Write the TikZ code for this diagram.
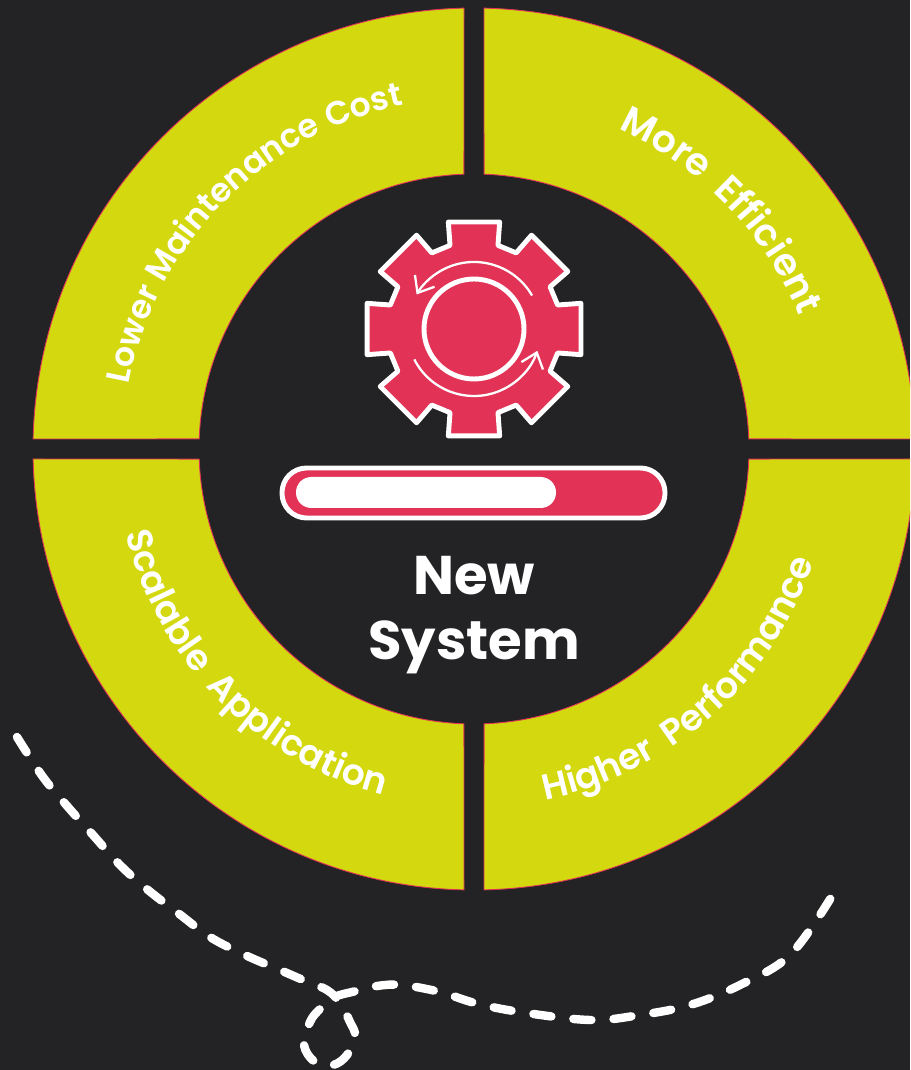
\documentclass[tikz,border=0pt]{standalone}
\usepackage{fontspec}
\setmainfont{Poppins}
\newfontfamily\ringfont{Poppins SemiBold}
\usetikzlibrary{arrows.meta,decorations.text}
\definecolor{boardbg}{HTML}{232225}
\definecolor{ringlime}{HTML}{D3D80F}
\definecolor{gearred}{HTML}{E23357}
\tikzset{
    ringpart/.style={fill=ringlime, draw=gearred, line width=0.5pt},
    redpart/.style={fill=gearred, draw=white, line width=2.8pt, line join=round},
    turnarrow/.style={draw=white, line width=1.3pt, -{Straight Barb[length=8pt,width=13pt]}},
    trailline/.style={draw=white, line width=4.8pt, line cap=round, dash pattern=on 10.3pt off 12.6pt}
}
\newcommand{\ringtext}[5]{%
    \path[decorate, decoration={text along path, text align=center,
        text={|\ringfont\fontsize{#5}{22}\selectfont\addfontfeature{LetterSpace=#4}\color{white}|#3}}] #1 arc[#2];
}
\begin{document}
\begin{tikzpicture}[x=0.02cm, y=0.02cm]
                \useasboundingbox (-474,-621) rectangle (436,449);
                \clip (-474,-621) rectangle (436,449);
                \fill[boardbg] (-474,-621) rectangle (436,449);

                % Four ring parts
                \foreach \r in {0,90,180,270} {
                    \draw[ringpart, rotate=\r] (91.3:441) arc[start angle=91.3, end angle=178.7, radius=441]
                        -- (177.9:275) arc[start angle=177.9, end angle=92.1, radius=275] -- cycle;
                }

                % Ring labels
                \ringtext{(178:351)}{start angle=178, end angle=93, radius=351}{Lower Maintenance Cost}{3}{18.8}
                \ringtext{(88:351)}{start angle=88, end angle=0, radius=351}{More Efficient}{20}{21.5}
                \ringtext{(-93:358)}{start angle=-93, end angle=-4, radius=358}{Higher Performance}{22}{20.5}
                \ringtext{(182:358)}{start angle=182, end angle=267, radius=358}{Scalable Application}{18}{20.5}

                % Gear
                \begin{scope}[shift={(0,120)}]
                    \draw[redpart] (-16:87) \foreach \a in {0,45,...,315} {
                        -- (\a-16:87) -- (\a-13.5:110) -- (\a+13.5:110) -- (\a+16:87)
                    } -- cycle;
                    \draw[redpart] (0,0) circle (50);
                    \draw[turnarrow] (30:67) arc[start angle=30, end angle=149, radius=67];
                    \draw[turnarrow] (207:67) arc[start angle=207, end angle=341, radius=67];
                \end{scope}

                % Progress bar
                \draw[redpart, rounded corners=14pt] (-192,-69) rectangle (191,-19);
                \fill[white, rounded corners=8.7pt] (-178,-59) rectangle (82,-28);

                % Centre label
                \node[text=white, align=center, font=\fontsize{31}{37}\selectfont\bfseries] (newsystem) at (0,-166) {New\\System};

                % Dashed trail
                \draw[trailline] plot[smooth, tension=0.6] coordinates {
                    (-457,-288) (-431,-328) (-406,-358) (-381,-386) (-354,-416) (-326,-441)
                    (-296,-464) (-264,-488) (-229,-506) (-194,-521) (-171,-531) (-147,-541)
                    (-134,-554) (-124,-573) (-119,-587) (-127,-606) (-141,-616) (-159,-613)
                    (-170,-596) (-164,-573) (-154,-560) (-139,-548) (-122,-543) (-97,-537)
                    (-72,-536) (-34,-543) (1,-554) (46,-563) (116,-571) (166,-566)
                    (216,-556) (266,-536) (316,-506) (358,-447)
                };
            \end{tikzpicture}
\end{document}
